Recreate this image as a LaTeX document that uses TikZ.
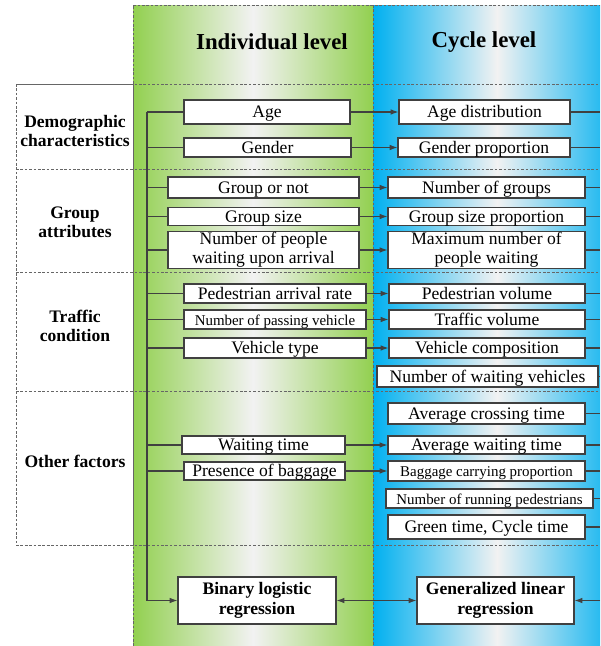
\documentclass[tikz,border=0pt]{standalone}
\usepackage{fontspec}
\setmainfont{Liberation Serif}
\usetikzlibrary{positioning,arrows.meta,shadows}

\definecolor{lvlgreen}{HTML}{92D050}
\definecolor{lvlblue}{HTML}{00B0F0}
\definecolor{lvlmid}{HTML}{F2F2F2}
\definecolor{linegray}{HTML}{404040}

\begin{document}
\begin{tikzpicture}[x=0.02cm, y=-0.02cm,
            base/.style={rectangle, draw=linegray, fill=white, line width=0.6pt, inner xsep=2pt, inner ysep=0.3pt, align=center, font=\fontsize{10}{11}\selectfont, drop shadow={shadow xshift=0.6pt, shadow yshift=-0.6pt, fill=black!35}},
            fbox/.style={base, text height=8pt, text depth=1.3pt},
            tbox/.style={base},
            small/.style={font=\fontsize{8.5}{10}\selectfont},
            mbox/.style={base, font=\bfseries\fontsize{10}{11.5}\selectfont},
            rowlab/.style={align=center, font=\bfseries\fontsize{10}{11}\selectfont},
            head/.style={font=\bfseries\fontsize{13}{15}\selectfont},
            sep/.style={draw=gray!80!black, line width=0.5pt, dash pattern=on 1.5pt off 1pt},
            conn/.style={draw=linegray, line width=0.6pt},
            arr/.style={conn, -{Latex[length=4.5pt,width=3.2pt]}},]
        \useasboundingbox (0,0) rectangle (600,646);
        % level columns
        \shade[left color=lvlgreen, right color=lvlgreen, middle color=lvlmid] (133,5) rectangle (373,646);
        \begin{scope}
            \clip (373,5) rectangle (600,646);
            \shade[left color=lvlblue, right color=lvlblue, middle color=lvlmid] (373,5) rectangle (621,646);
        \end{scope}
        \draw[sep] (133,646) -- (133,5) -- (600,5);
        \draw[sep] (373,5) -- (373,646);
        \draw[sep] (16,84) rectangle (133,545);
        \foreach \y in {84,169,272,391,545}
            \draw[sep] (16,\y) -- (600,\y);

        \node[head](indhead) at (272,42) {Individual level};
        \node[head](cychead) at (484,42) {Cycle level};

        \node[rowlab](demo) at (75,131) {Demographic\\characteristics};
        \node[rowlab](grp) at (75,222) {Group\\attributes};
        \node[rowlab](traffic) at (75,326) {Traffic\\condition};
        \node[rowlab](other) at (75,461) {Other factors};

        % individual level
        \node[fbox, minimum width=3.32cm, minimum height=0.48cm](age) at (267,112) {Age};
        \node[fbox, minimum width=3.34cm, minimum height=0.38cm](gender) at (267.5,147.5) {Gender};
        \node[fbox, minimum width=3.82cm, minimum height=0.42cm](grpnot) at (263.5,187.5) {Group or not};
        \node[fbox, minimum width=3.82cm, minimum height=0.34cm](grpsize) at (263.5,216.5) {Group size};
        \node[tbox, minimum width=3.82cm, minimum height=0.72cm](npeople) at (263.5,250) {Number of people\\waiting upon arrival};
        \node[fbox, minimum width=3.64cm, minimum height=0.38cm](pedrate) at (275,293.5) {Pedestrian arrival rate};
        \node[fbox, small, minimum width=3.64cm, minimum height=0.38cm](npassing) at (275,319.5) {Number of passing vehicle};
        \node[fbox, minimum width=3.64cm, minimum height=0.40cm](vtype) at (275,348) {Vehicle type};
        \node[fbox, minimum width=3.26cm, minimum height=0.36cm](waittime) at (263.5,445) {Waiting time};
        \node[fbox, minimum width=3.22cm, minimum height=0.36cm](baggage) at (264.5,471) {Presence of baggage};
        \node[mbox, minimum width=3.16cm, minimum height=0.94cm](binary) at (257,600.5) {Binary logistic\\regression};

        % cycle level
        \node[fbox, minimum width=3.42cm, minimum height=0.48cm](agedist) at (484.5,112) {Age distribution};
        \node[fbox, minimum width=3.44cm, minimum height=0.38cm](genprop) at (484,147.5) {Gender proportion};
        \node[fbox, minimum width=3.94cm, minimum height=0.42cm](ngroups) at (486.5,187.5) {Number of groups};
        \node[fbox, minimum width=3.94cm, minimum height=0.34cm](gsizeprop) at (486.5,216.5) {Group size proportion};
        \node[tbox, minimum width=3.94cm, minimum height=0.72cm](maxwait) at (486.5,250) {Maximum number of\\people waiting};
        \node[fbox, minimum width=3.92cm, minimum height=0.38cm](pedvol) at (487,293.5) {Pedestrian volume};
        \node[fbox, minimum width=3.92cm, minimum height=0.38cm](trafvol) at (487,319.5) {Traffic volume};
        \node[fbox, minimum width=3.92cm, minimum height=0.40cm](vcomp) at (487,348) {Vehicle composition};
        \node[fbox, minimum width=4.42cm, minimum height=0.42cm](nwaitveh) at (487.5,376.5) {Number of waiting vehicles};
        \node[fbox, minimum width=3.94cm, minimum height=0.42cm](avgcross) at (486.5,413.5) {Average crossing time};
        \node[fbox, minimum width=3.94cm, minimum height=0.36cm](avgwait) at (486.5,445) {Average waiting time};
        \node[fbox, small, minimum width=3.94cm, minimum height=0.40cm](bagprop) at (486.5,471) {Baggage carrying proportion};
        \node[fbox, small, minimum width=4.14cm, minimum height=0.38cm](nrunning) at (489.5,498.5) {Number of running pedestrians};
        \node[fbox, minimum width=3.94cm, minimum height=0.48cm](greentime) at (486.5,527) {Green time, Cycle time};
        \node[mbox, minimum width=3.14cm, minimum height=0.94cm](glr) at (495.5,600.5) {Generalized linear\\regression};

        % connectors
        \coordinate (trunk) at (147,112);
        \coordinate (rbus) at (600,112);
        \draw[arr] (trunk) |- (binary.west);
        \foreach \n in {age,gender,grpnot,grpsize,npeople,pedrate,npassing,vtype,waittime,baggage}
            \draw[conn] (trunk |- \n.west) -- (\n.west);
        \foreach \a/\b in {age/agedist,gender/genprop,grpnot/ngroups,grpsize/gsizeprop,npeople/maxwait,pedrate/pedvol,npassing/trafvol,vtype/vcomp,waittime/avgwait,baggage/bagprop}
            \draw[arr] (\a.east) -- (\b.west);
        \foreach \n in {agedist,genprop,ngroups,gsizeprop,maxwait,pedvol,trafvol,vcomp,nwaitveh,avgcross,avgwait,bagprop,nrunning,greentime}
            \draw[conn] (\n.east) -- (\n.east -| rbus);
        \draw[conn, {Latex[length=4.5pt,width=3.2pt]}-{Latex[length=4.5pt,width=3.2pt]}] (binary.east) -- (glr.west);
        \draw[arr] (glr.east -| rbus) -- (glr.east);
    \end{tikzpicture}
\end{document}
